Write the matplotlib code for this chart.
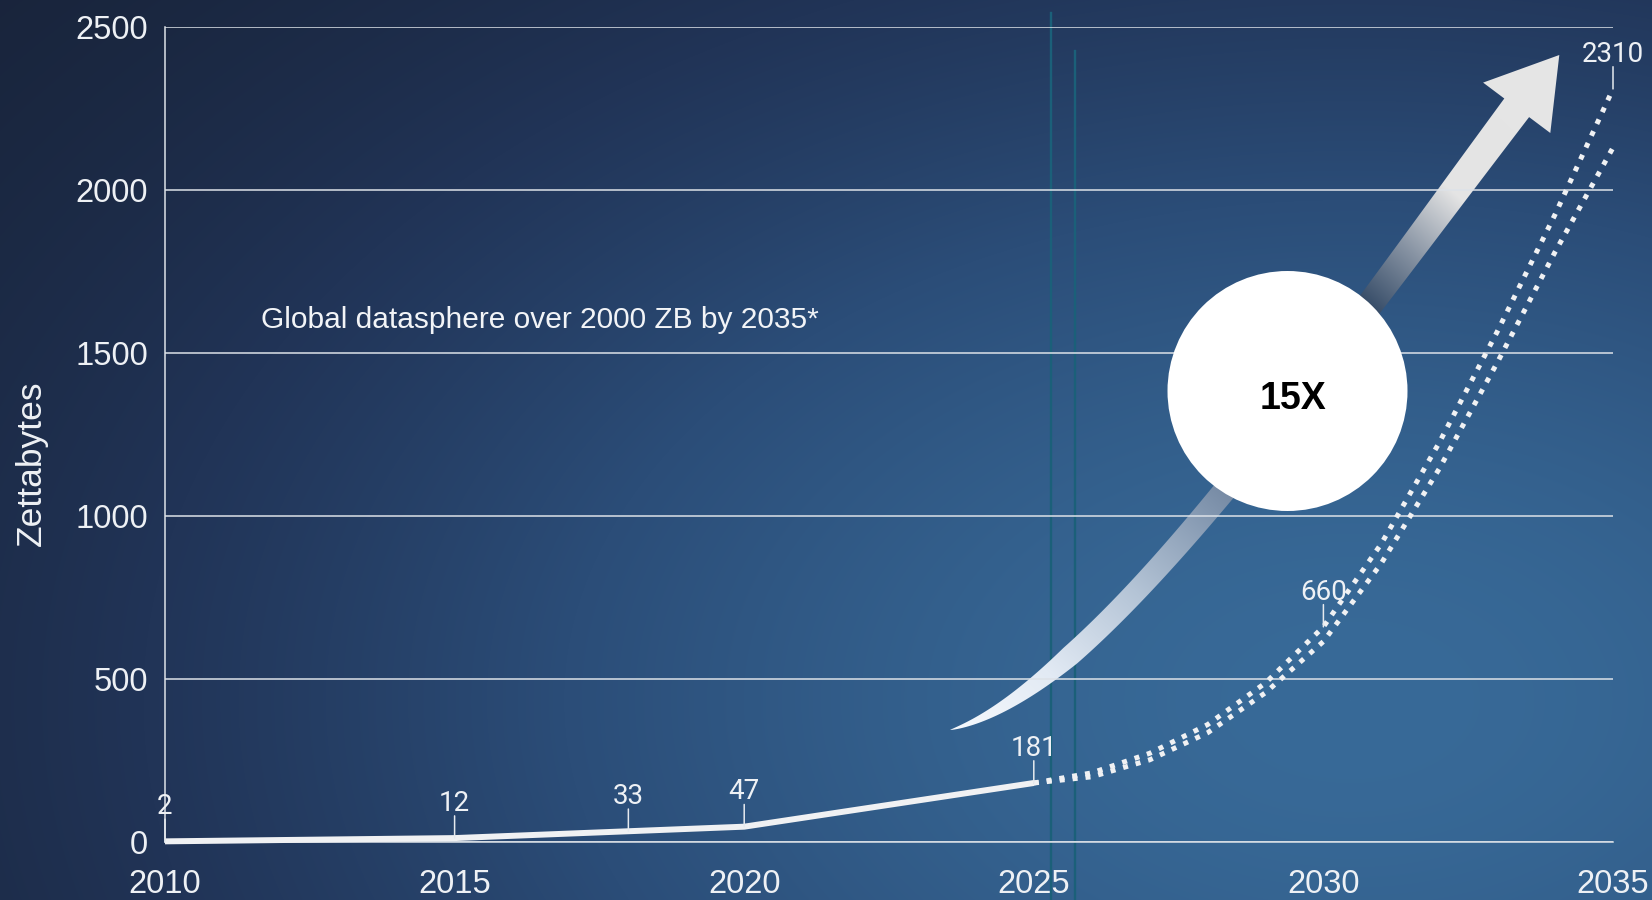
import numpy as np
import matplotlib
matplotlib.use('Agg')
import matplotlib.pyplot as plt
from matplotlib.transforms import Affine2D
from matplotlib.patches import Circle, Polygon

# ---------------- data ----------------
hist_years = [2010, 2015, 2018, 2020, 2025]
hist_values = [2, 12, 33, 47, 181]
fc_years = [2025, 2026, 2027, 2028, 2029, 2030, 2031, 2032, 2033, 2034, 2035]
fc_high = [181, 212, 272, 360, 488, 660, 915, 1225, 1565, 1925, 2310]
fc_low = [181, 200, 252, 335, 458, 615, 855, 1145, 1470, 1810, 2130]
label_years = [2010, 2015, 2018, 2020, 2025, 2030, 2035]
label_values = [2, 12, 33, 47, 181, 660, 2310]
x_ticks = [2010, 2015, 2020, 2025, 2030, 2035]
y_ticks = [0, 500, 1000, 1500, 2000, 2500]
y_label = 'Zettabytes'
headline = 'Global datasphere over 2000 ZB by 2035*'
badge = '15X'

plt.rcParams['font.family'] = ['Liberation Sans', 'DejaVu Sans']

W, H = 1652, 900
fig = plt.figure(figsize=(W / 100, H / 100), dpi=100)

# pixel transform (origin top-left, y down) for decorative annotations
px = Affine2D().scale(1, -1).translate(0, H).scale(1 / 100.) + fig.dpi_scale_trans

# ---------------- background ----------------
bg = fig.add_axes([0, 0, 1, 1])
bg.set_zorder(-1)
bg.set_axis_off()
yy, xx = np.mgrid[0:H, 0:W].astype(float)
f = np.exp(-((xx - 1350) / 1100) ** 2 - ((yy - 700) / 700) ** 2)
stops_p = [0.0, 0.3, 0.6, 1.0]
stops_c = np.array([(22, 31, 50), (33, 52, 87), (43, 77, 120), (56, 106, 152)]) / 255.
img = np.dstack([np.interp(f, stops_p, stops_c[:, k]) for k in range(3)])
bg.imshow(img, extent=[0, W, H, 0], aspect='auto', interpolation='bilinear', zorder=0)
bg.plot([1051, 1051], [13, H], color='#1b6079', lw=1.7, zorder=0.5)
bg.plot([1075, 1075], [51, H], color='#1b6079', lw=1.7, zorder=0.5)

# ---------------- big gradient arrow (decoration) ----------------
P0 = np.array([950., 730.])
P3 = np.array([1516.7, 107.8])
d0 = np.array([0.97, -0.26]); d0 /= np.linalg.norm(d0)
d3 = np.array([0.6, -0.8])
P1 = P0 + 150 * d0
P2 = P3 - 350 * d3
t = np.linspace(0, 1, 300)[:, None]
B = (1 - t) ** 3 * P0 + 3 * (1 - t) ** 2 * t * P1 + 3 * (1 - t) * t ** 2 * P2 + t ** 3 * P3
dB = 3 * (1 - t) ** 2 * (P1 - P0) + 6 * (1 - t) * t * (P2 - P1) + 3 * t ** 2 * (P3 - P2)
tan = dB / np.linalg.norm(dB, axis=1)[:, None]
nrm = np.column_stack([-tan[:, 1], tan[:, 0]])
tt = t[:, 0]
wdt = (20 + 11 * tt ** 2) * np.clip(tt / 0.25, 0, 1) ** 0.8
left = B - nrm * wdt[:, None] / 2
right = B + nrm * wdt[:, None] / 2
pp = np.array([0.8, 0.6])
head = [P3 - 42 * pp, P3 + 67.8 * d3 + 2.4 * pp, P3 + 42 * pp]
poly = np.vstack([left, head, right[::-1]])
arrow_patch = Polygon(poly, closed=True, facecolor='none', edgecolor='none', zorder=1)
bg.add_patch(arrow_patch)

x0, x1 = int(poly[:, 0].min()) - 5, int(poly[:, 0].max()) + 5
y0, y1 = int(poly[:, 1].min()) - 5, int(poly[:, 1].max()) + 5
gy, gx = np.mgrid[y0:y1, x0:x1].astype(float)
tail = np.array([950., 730.]); tip = np.array([1559., 55.])
dv = tip - tail; L = np.linalg.norm(dv); dv /= L
s = ((gx - tail[0]) * dv[0] + (gy - tail[1]) * dv[1]) / L
gp = [0.0, 0.12, 0.25, 0.37, 0.50, 0.64, 0.73, 0.81, 1.0]
gc = np.array([(246, 249, 253), (226, 234, 244), (180, 196, 214), (130, 150, 175),
               (80, 100, 128), (38, 62, 92), (135, 147, 163), (228, 228, 228),
               (230, 230, 230)]) / 255.
aimg = np.dstack([np.interp(s, gp, gc[:, k]) for k in range(3)])
im = bg.imshow(aimg, extent=[x0, x1, y1, y0], aspect='auto', interpolation='bilinear', zorder=1)
im.set_clip_path(arrow_patch)
bg.set_xlim(0, W)
bg.set_ylim(H, 0)

# ---------------- main axes ----------------
ax = fig.add_axes([165 / W, 58 / H, 1448 / W, 815 / H])
ax.patch.set_alpha(0)
ax.set_xlim(2010, 2035)
ax.set_ylim(0, 2500)
ax.set_axisbelow(True)
ax.set_xticks(x_ticks)
ax.set_yticks(y_ticks)
tick_col = '#eef1f5'
ax.tick_params(axis='both', length=0, colors=tick_col, labelsize=23.5)
ax.tick_params(axis='x', pad=19.5)
ax.tick_params(axis='y', pad=12)
ax.yaxis.grid(True, color='#dde2e8', lw=1.1)
for sp in ['top', 'right']:
    ax.spines[sp].set_visible(False)
for sp in ['left', 'bottom']:
    ax.spines[sp].set_color('#dde2e8')
    ax.spines[sp].set_linewidth(1.1)

ax.set_ylabel(y_label, fontsize=25.5, color=tick_col, va='center')
ax.yaxis.set_label_coords(-0.092, 0.465)

ax.text(2011.66, 1576, headline, fontsize=21.5, color='#f2f4f7', va='baseline', ha='left')

# badge circle
ax.add_patch(Circle((1287.5, 391), 120, transform=px, facecolor='white',
                    edgecolor='none', zorder=3, clip_on=False))
ax.text(1293, 399, badge, transform=px, fontsize=27, fontweight='bold',
        color='black', ha='center', va='center', zorder=3.5)

# data lines
line_col = '#f0f1f3'
ax.plot(hist_years, hist_values, color=line_col, lw=4.3, solid_capstyle='butt',
        solid_joinstyle='round', zorder=4, clip_on=False)
for vals in (fc_high, fc_low):
    ax.plot(fc_years, vals, color=line_col, lw=3.6, linestyle=(0, (1, 1.6)),
            dash_capstyle='butt', zorder=4, clip_on=False)

# data labels with leaders
for yr, v in zip(label_years, label_values):
    ax.annotate('', xy=(yr, v), xytext=(0, 16), textcoords='offset points',
                arrowprops=dict(arrowstyle='-', color='#e6eaef', lw=1.1,
                                shrinkA=0, shrinkB=0), zorder=5, annotation_clip=False)
    ax.annotate(str(v), xy=(yr, v), xytext=(0, 25), textcoords='offset points',
                ha='center', va='center', fontsize=20, color='#eef1f5',
                family=['Roboto', 'DejaVu Sans'], fontweight='normal', zorder=5,
                annotation_clip=False)

fig.savefig('out.png', dpi=100)
